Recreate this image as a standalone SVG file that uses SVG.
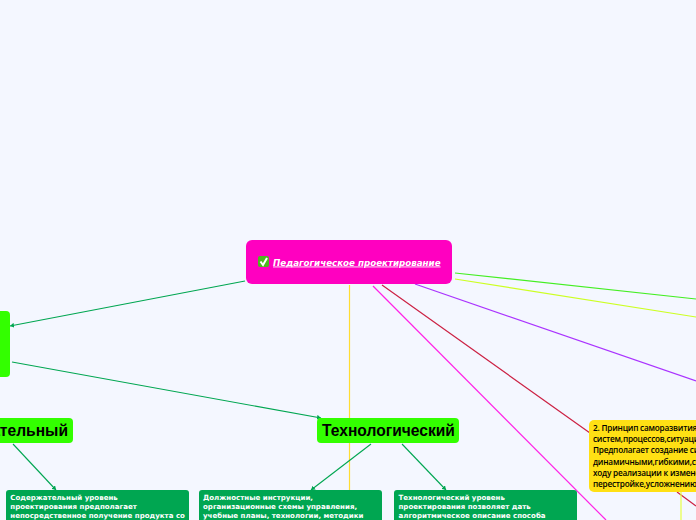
<svg xmlns="http://www.w3.org/2000/svg" width="696" height="520" viewBox="0 0 696 520">
<style>
.c{fill:none;stroke-width:1.2}
.g{stroke:#00a651;stroke-width:1.1;marker-end:url(#a)}
.t{font-family:"DejaVu Sans",Verdana,sans-serif;font-size:7.05px;font-weight:bold;fill:#fff}
.h{font-family:"Liberation Sans",Arial,sans-serif;font-size:15.6px;font-weight:bold;fill:#000}
.y{font-family:"Open Sans","Noto Sans",sans-serif;font-size:8.2px;font-weight:600;letter-spacing:-.2px;fill:#000}
</style>
<defs>
<marker id="a" markerWidth="5" markerHeight="5" refX="4" refY="2.5" orient="auto" markerUnits="userSpaceOnUse"><path d="M0 0L4 2.5L0 5Z" fill="#00a651"/></marker>
</defs>
<rect width="696" height="520" fill="#f4f7ff"/>
<g id="connectors">
<path class="c" stroke="#ffdd33" stroke-width="1" d="M349.500 285V490"/>
<path class="c" stroke="#ff22e6" d="M373 286L606 520"/>
<path class="c" stroke="#cc2244" d="M382 285L590 433M677 492L696 506"/>
<path class="c" stroke="#aa33ff" d="M415 284L696 381"/>
<path class="c" stroke="#44ee22" d="M455 273L696 299"/>
<path class="c" stroke="#ccff22" d="M455 279L696 317"/>
<path class="c" stroke="#e6ff44" d="M681 492V520"/>
<path class="c g" d="M245 281L10 326"/>
<path class="c g" d="M12 362L321 418"/>
<path class="c g" d="M13 444L56 490"/>
<path class="c g" d="M371 444L311 490"/>
<path class="c g" d="M402 444L446 490"/>
</g>
<g id="root">
<rect x="246" y="240" width="206" height="44" rx="6" fill="#ff00c0"/>
<rect x="258" y="256" width="11" height="11" rx="2" fill="#4cb81e"/>
<path d="M260.500 261.500L263 265L267 258" fill="none" stroke="#fff" stroke-width="2"/>
<text x="273" y="265.500" font-family="DejaVu Sans,Verdana,sans-serif" font-size="8.7px" font-weight="bold" font-style="italic" fill="#fff" text-decoration="underline">Педагогическое проектирование</text>
</g>
<g id="left-node"><rect x="-40" y="311" width="50" height="66" rx="4" fill="#33ff00"/></g>
<g id="content-level">
<rect x="-60" y="418" width="133" height="25" rx="4" fill="#33ff00"/>
<text class="h" x="68" y="436" text-anchor="end">Содержательный</text>
</g>
<g id="tech-level">
<rect x="317" y="418" width="142" height="25" rx="4" fill="#33ff00"/>
<text class="h" x="322" y="436">Технологический</text>
</g>
<g id="box1">
<rect x="6" y="490" width="183" height="50" rx="3" fill="#00a651"/>
<text class="t" x="10.300" y="500">Содержательный уровень</text>
<text class="t" x="10.300" y="508.600">проектирования предполагает</text>
<text class="t" x="10.300" y="517.500">непосредственное получение продукта со</text>
</g>
<g id="box2">
<rect x="199" y="490" width="183" height="50" rx="3" fill="#00a651"/>
<text class="t" x="203" y="500">Должностные инструкции,</text>
<text class="t" x="203" y="508.600">организационные схемы управления,</text>
<text class="t" x="203" y="517.500">учебные планы, технологии, методики</text>
</g>
<g id="box3">
<rect x="394" y="490" width="183" height="50" rx="3" fill="#00a651"/>
<text class="t" x="398.500" y="500">Технологический уровень</text>
<text class="t" x="398.500" y="508.600">проектирования позволяет дать</text>
<text class="t" x="398.500" y="517.500">алгоритмическое описание способа</text>
</g>
<g id="principle2">
<rect x="589" y="420" width="160" height="72" rx="5" fill="#ffe014"/>
<text class="y" x="593" y="431">2. Принцип саморазвития</text>
<text class="y" x="593" y="442.200">систем,процессов,ситуаций.</text>
<text class="y" x="593" y="453.400">Предполагает создание систем</text>
<text class="y" x="593" y="464.600">динамичными,гибкими,способными</text>
<text class="y" x="593" y="475.800">ходу реализации к изменениям,</text>
<text class="y" x="593" y="487">перестройке,усложнению</text>
</g>
</svg>
